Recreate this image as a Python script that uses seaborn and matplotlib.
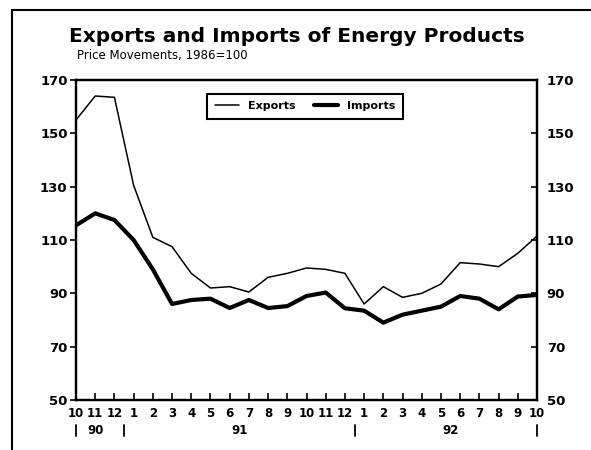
import matplotlib
matplotlib.use("Agg")
import pandas as pd
import seaborn as sns
import matplotlib.pyplot as plt
import matplotlib.transforms as mtransforms
from matplotlib.patches import Rectangle

# monthly price indexes, Oct 1990 - Oct 1992 (1986=100)
month_labels = ["10", "11", "12", "1", "2", "3", "4", "5", "6", "7", "8", "9",
                "10", "11", "12", "1", "2", "3", "4", "5", "6", "7", "8", "9", "10"]
exports = [155, 164, 163.5, 130.5, 111, 107.5, 97.5, 92, 92.5, 90.5, 96, 97.5,
           99.5, 99, 97.5, 86, 92.5, 88.5, 90, 93.5, 101.5, 101, 100, 105, 111.5]
imports = [115.5, 120, 117.5, 110, 99, 86, 87.5, 88, 84.5, 87.5, 84.5, 85.2,
           89, 90.3, 84.4, 83.5, 79, 82, 83.5, 85, 89, 88, 84, 88.8, 89.4]
year_labels = ["90", "91", "92"]
year_label_pos = [1, 8.5, 19.5]
year_breaks = [0, 2.5, 14.5, 24]
y_ticks = [50, 70, 90, 110, 130, 150, 170]

df = pd.DataFrame({
    "month": list(range(len(month_labels))) * 2,
    "value": exports + imports,
    "series": ["Exports"] * len(exports) + ["Imports"] * len(imports),
})

sns.set_style("ticks")
plt.rcParams["font.family"] = ["DejaVu Sans"]
plt.rcParams["font.weight"] = "bold"
plt.rcParams["text.color"] = "black"
plt.rcParams["axes.edgecolor"] = "black"
plt.rcParams["xtick.color"] = "black"
plt.rcParams["ytick.color"] = "black"

fig = plt.figure(figsize=(5.91, 4.5), dpi=100)
ax = fig.add_axes([76 / 591, 1 - 400 / 450, (537 - 76) / 591, 320 / 450])

sns.lineplot(data=df, x="month", y="value", hue="series", size="series",
             sizes={"Exports": 1.1, "Imports": 3.0},
             palette={"Exports": "black", "Imports": "black"},
             ax=ax, legend=False)

ax.set_xlim(0, 24)
ax.set_ylim(50, 170)
ax.set_xlabel("")
ax.set_ylabel("")
ax.set_xticks(range(len(month_labels)))
ax.set_xticklabels(month_labels, fontsize=8.5, fontweight="bold")
ax.set_yticks(y_ticks)
ax.set_yticklabels([str(t) for t in y_ticks], fontsize=9.5, fontweight="bold")
ax.tick_params(axis="x", direction="in", length=5, width=1.2, pad=5)
ax.tick_params(axis="y", direction="out", length=4, width=1.2, pad=2)
for s in ax.spines.values():
    s.set_visible(True)
    s.set_linewidth(1.6)

# right-hand axis repeats the scale
ax2 = ax.twinx()
ax2.set_ylim(50, 170)
ax2.set_yticks(y_ticks)
ax2.set_yticklabels([str(t) for t in y_ticks], fontsize=9.5, fontweight="bold")
ax2.tick_params(axis="y", direction="in", length=4, width=1.2, pad=7)
for s in ax2.spines.values():
    s.set_linewidth(1.6)

# year row under the month labels
trans = mtransforms.blended_transform_factory(ax.transData, ax.transAxes)
for lbl, xp in zip(year_labels, year_label_pos):
    ax.text(xp, -0.094, lbl, transform=trans, ha="center", va="center",
            fontsize=8.5, fontweight="bold")
for xb in year_breaks:
    ax.plot([xb, xb], [-0.078, -0.112], transform=trans, color="black",
            lw=1.3, clip_on=False)

# legend
h1, = ax.plot([], [], color="black", lw=1.1, label="Exports")
h2, = ax.plot([], [], color="black", lw=3.0, label="Imports")
leg = ax.legend(handles=[h1, h2], loc="upper center", bbox_to_anchor=(0.497, 0.975),
                ncol=2, frameon=True, fancybox=False, edgecolor="black",
                framealpha=1, prop={"size": 8, "weight": "bold"},
                handlelength=2.2, columnspacing=1.6, borderpad=0.7)
leg.get_frame().set_linewidth(1.5)

fig.text(0.503, 1 - 37 / 450, "Exports and Imports of Energy Products",
         ha="center", va="center", fontsize=14.5, fontweight="bold")
fig.text(77 / 591, 1 - 56 / 450, "Price Movements, 1986=100",
         ha="left", va="center", fontsize=8.5, fontweight="normal")

# outer frame of the page
fig.patches.append(Rectangle((12 / 591, -0.2), 1.2, 0.2 + 1 - 10 / 450,
                             transform=fig.transFigure, fill=False,
                             edgecolor="black", lw=1.5))

plt.savefig("out.png", dpi=100)
